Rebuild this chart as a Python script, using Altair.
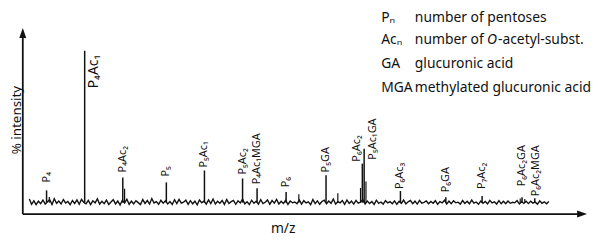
import altair as alt
import pandas as pd

# ---- data -------------------------------------------------------------
peak_mz = [569, 611, 653, 701, 743, 785, 801, 833, 877, 917, 919, 959, 1009, 1049, 1093, 1107]
peak_int = [14.5, 100, 22.4, 19.4, 26.7, 21.8, 15.8, 13.5, 23.8, 30.9, 40.0, 14.1, 10.3, 11.1, 10.3, 9.7]
peak_lab = ["P₄", "P₄Ac₁", "P₄Ac₂", "P₅", "P₅Ac₁", "P₅Ac₂", "P₄Ac₁MGA", "P₆", "P₅GA",
            "P₆Ac₂", "P₅Ac₁GA", "P₆Ac₃", "P₆GA", "P₇Ac₂", "P₆Ac₂GA", "P₆Ac₂MGA"]

minor_mz = [572, 655, 847, 890, 915, 921, 1091, 1096]
minor_int = [10.5, 15.5, 12.1, 12.7, 16.0, 20.0, 9.5, 9.2]

noise_start = 550
noise_step = 2.5
noise = [
    9.2, 6.0, 8.1, 5.8, 7.9, 6.4, 8.6, 6.1, 7.5, 8.8, 5.9, 9.4, 6.6, 8.0, 6.2, 8.9, 6.8, 7.7, 5.7, 8.3,
    6.5, 8.7, 6.0, 9.0, 7.1, 6.3, 8.4, 5.8, 8.1, 6.9, 9.3, 6.1, 7.8, 6.4, 8.6, 5.9, 7.4, 8.8, 6.2, 8.0,
    5.6, 8.5, 6.7, 9.1, 6.0, 7.9, 6.3, 8.2, 7.0, 5.8, 8.9, 6.5, 8.3, 6.1, 9.5, 6.8, 7.6, 6.0, 8.4, 6.6,
    8.1, 6.2, 7.7, 5.9, 8.8, 6.4, 9.0, 6.7, 7.3, 8.5, 6.0, 8.2, 6.3, 7.9, 5.7, 8.6, 6.9, 8.0, 6.1, 8.7,
    6.4, 9.2, 6.2, 7.8, 6.6, 8.3, 5.9, 8.9, 6.5, 7.6, 8.4, 6.0, 8.1, 6.8, 9.1, 6.3, 7.5, 5.8, 8.5, 6.6,
    7.9, 6.1, 8.8, 6.4, 7.2, 8.6, 6.0, 8.3, 6.7, 9.0, 6.2, 7.8, 6.5, 8.4, 5.9, 8.0, 6.9, 7.4, 6.3, 8.7,
    6.1, 8.2, 6.8, 7.5, 5.8, 8.9, 6.4, 8.1, 6.0, 7.7, 8.5, 6.3, 8.0, 6.6, 9.2, 6.2, 7.6, 6.9, 8.3, 6.0,
    8.6, 6.5, 7.9, 6.1, 8.4, 6.7, 7.3, 8.8, 6.2, 8.0, 6.4, 7.7, 5.9, 8.5, 6.6, 7.4, 6.1, 8.2, 6.8, 7.6,
    6.3, 8.1, 6.0, 7.8, 6.5, 8.6, 6.2, 7.5, 8.3, 6.4, 7.9, 6.1, 8.4, 6.7, 7.2, 8.0, 6.3, 7.7, 6.6, 8.2,
    6.0, 7.6, 6.8, 8.5, 6.2, 7.9, 6.4, 8.1, 6.9, 7.3, 6.1, 8.3, 6.5, 7.8, 6.3, 8.6, 6.7, 7.4, 6.0, 8.0,
    6.6, 7.7, 6.2, 8.4, 6.8, 7.5, 6.1, 8.2, 6.4, 7.9, 6.3, 8.0, 6.6, 7.2, 6.9, 8.3, 6.2, 7.6, 6.5, 7.8,
    6.4, 7.9, 6.7, 7.3, 6.1, 8.1, 6.6, 7.5, 6.3, 7.7,
]

legend_keys = ["Pₙ", "Acₙ", "GA", "MGA"]
legend_desc = ["number of pentoses", None, "glucuronic acid", "methylated glucuronic acid"]

# label placement: (intensity of label start, horizontal pixel offset, font size)
label_place = {
    "P₄": (19.4, 0, 11), "P₄Ac₁": (77.0, 9, 14), "P₄Ac₂": (25.5, 0, 11), "P₅": (23.0, 0, 11),
    "P₅Ac₁": (28.5, 0, 11), "P₅Ac₂": (24.2, 0, 11), "P₄Ac₁MGA": (18.2, 0, 11), "P₆": (16.4, 0, 11),
    "P₅GA": (25.5, 0, 11), "P₆Ac₂": (32.1, -5, 11), "P₅Ac₁GA": (33.3, 9, 11), "P₆Ac₃": (15.3, 0, 11),
    "P₆GA": (13.3, 0, 11), "P₇Ac₂": (15.3, 0, 11), "P₆Ac₂GA": (17.0, 0, 11), "P₆Ac₂MGA": (10.9, 1, 11),
}

# ---- tables -----------------------------------------------------------
BASE = 7.0
peaks = pd.DataFrame({"mz": peak_mz, "top": peak_int, "label": peak_lab, "base": BASE})
minor = pd.DataFrame({"mz": minor_mz, "top": minor_int, "base": BASE})
noise_df = pd.DataFrame({"mz": [noise_start + i * noise_step for i in range(len(noise))],
                         "int": noise})
peaks["ly"] = [label_place[l][0] for l in peak_lab]
peaks["dx"] = [label_place[l][1] for l in peak_lab]
peaks["fs"] = [label_place[l][2] for l in peak_lab]

W, H = 590, 233
xs = alt.Scale(domain=[526.5, 1170.1], nice=False, zero=False)
ys = alt.Scale(domain=[-15.76, 125.45], nice=False, zero=False)
FONT = "Noto Sans"
INK = "#111111"

X = lambda f: alt.X(f, type="quantitative", scale=xs, axis=None)
Y = lambda f: alt.Y(f, type="quantitative", scale=ys, axis=None)

noise_line = alt.Chart(noise_df).mark_line(color=INK, strokeWidth=1.4).encode(
    x=X("mz"), y=Y("int"))

peak_rules = alt.Chart(peaks).mark_rule(color=INK, strokeWidth=1.5).encode(
    x=X("mz"), y=Y("base"), y2="top")
minor_rules = alt.Chart(minor).mark_rule(color=INK, strokeWidth=1.2).encode(
    x=X("mz"), y=Y("base"), y2="top")

layers = [noise_line, peak_rules, minor_rules]
for (dxv, fs), sub in peaks.groupby(["dx", "fs"]):
    layers.append(
        alt.Chart(sub).mark_text(angle=270, align="left", baseline="middle",
                                 font=FONT, fontSize=int(fs), color=INK, dy=float(dxv)).encode(
            x=X("mz"), y=Y("ly"), text="label:N"))

# axes with arrows
AX0 = 542.8
axis_df = pd.DataFrame({"mz": [AX0], "mz2": [1160.0], "i0": [0.0], "i1": [109.0]})
x_axis = alt.Chart(axis_df).mark_rule(color=INK, strokeWidth=1.8).encode(
    x=X("mz"), x2="mz2", y=Y("i0"))
y_axis = alt.Chart(axis_df).mark_rule(color=INK, strokeWidth=1.8).encode(
    x=X("mz"), y=Y("i0"), y2="i1")
arrow_up = alt.Chart(pd.DataFrame({"mz": [AX0], "i": [113.9]})).mark_point(
    shape="M0,0L0.7,2L-0.7,2Z", size=100, filled=True, color=INK, opacity=1).encode(
    x=X("mz"), y=Y("i"))
arrow_right = alt.Chart(pd.DataFrame({"mz": [1164.6], "i": [0.0]})).mark_point(
    shape="M0,0L-2,0.7L-2,-0.7Z", size=100, filled=True, color=INK, opacity=1).encode(
    x=X("mz"), y=Y("i"))
layers += [x_axis, y_axis, arrow_up, arrow_right]

# axis titles
layers.append(alt.Chart(pd.DataFrame({"t": ["% intensity"]})).mark_text(
    angle=270, align="center", baseline="middle", font=FONT, fontSize=13.5, color=INK).encode(
    x=alt.value(9), y=alt.value(112), text="t:N"))
layers.append(alt.Chart(pd.DataFrame({"t": ["m/z"]})).mark_text(
    align="center", baseline="middle", font=FONT, fontSize=14, color=INK).encode(
    x=alt.value(278), y=alt.value(222), text="t:N"))

# legend block
LY = [12.5, 35, 59.5, 84]
KX, DX = 377, 411
FS = 14
for k, yv in zip(legend_keys, LY):
    layers.append(alt.Chart(pd.DataFrame({"t": [k]})).mark_text(
        align="left", baseline="alphabetic", font=FONT, fontSize=FS, color=INK).encode(
        x=alt.value(KX), y=alt.value(yv), text="t:N"))
for d, yv in zip(legend_desc, LY):
    if d is None:
        continue
    layers.append(alt.Chart(pd.DataFrame({"t": [d]})).mark_text(
        align="left", baseline="alphabetic", font=FONT, fontSize=FS, color=INK).encode(
        x=alt.value(DX), y=alt.value(yv), text="t:N"))
# row with italic O
row2 = [("number of", 411, "normal"), ("O", 484, "italic"), ("-acetyl-subst.", 495, "normal")]
for t, xv, st in row2:
    layers.append(alt.Chart(pd.DataFrame({"t": [t]})).mark_text(
        align="left", baseline="alphabetic", font=FONT, fontSize=FS, fontStyle=st, color=INK).encode(
        x=alt.value(xv), y=alt.value(LY[1]), text="t:N"))

chart = alt.layer(*layers).properties(
    width=W, height=H, autosize=alt.AutoSizeParams(type="none"), padding=0,
    background="white").configure_view(stroke=None)

chart.save("out.html", embed_options={"renderer": "svg", "actions": False})
